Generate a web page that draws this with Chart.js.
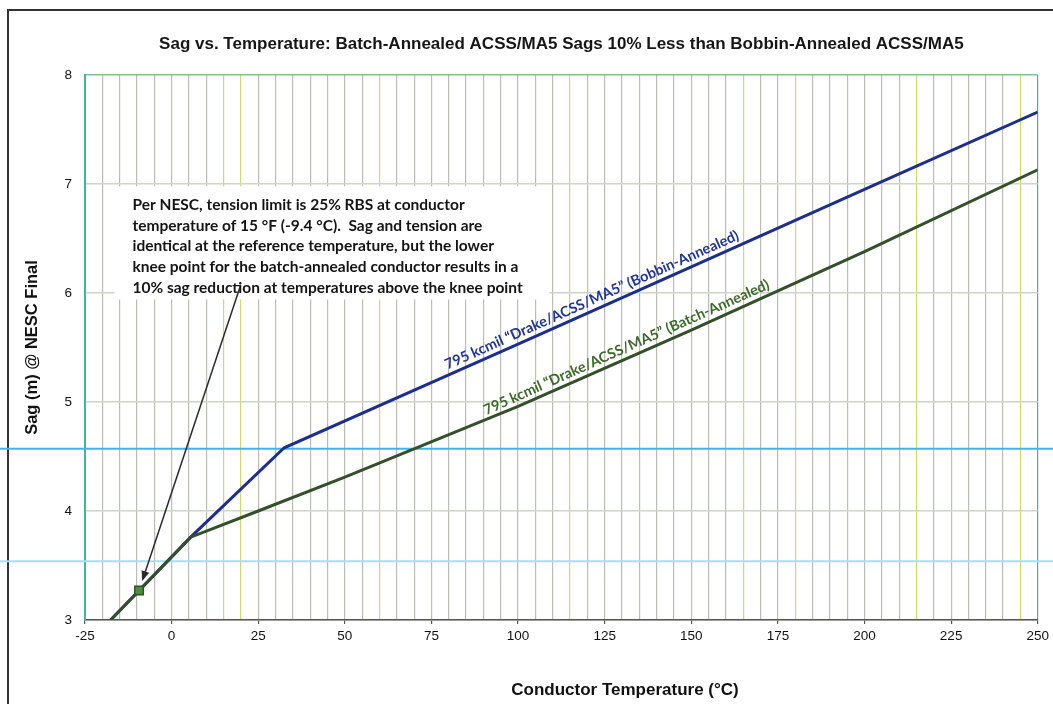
<!DOCTYPE html>
<html>
<head>
<meta charset="utf-8">
<script src="https://cdn.jsdelivr.net/npm/chart.js@4.4.1/dist/chart.umd.min.js"></script>
<style>
  html, body { margin: 0; padding: 0; background: #fff; }
  #wrap { width: 1053px; height: 704px; position: relative; }
</style>
</head>
<body>
<div id="wrap"><canvas id="sag_chart"></canvas></div>
<script>
// ***DATA***
const bobbinTemp = [-17.6, 5.5, 32.5, 100, 150, 200, 250]
const bobbinSag = [3.00, 3.76, 4.58, 5.53, 6.24, 6.95, 7.66]
const batchTemp = [-17.6, 5.5, 25, 50, 100, 150, 200, 250]
const batchSag = [3.00, 3.76, 4.00, 4.31, 4.96, 5.66, 6.38, 7.13]
const refTemp = [-9.4]
const refSag = [3.27]
const xTickLabels = [-25, 0, 25, 50, 75, 100, 125, 150, 175, 200, 225, 250]
const yTickLabels = [3, 4, 5, 6, 7, 8]
// scan artefacts: yellowish vertical grid lines, cyan horizontal streaks
const yellowGrid = [15, 20, 60, 115, 165, 180, 215, 245]
const streakSag = [4.57, 3.54]

const chartTitle = 'Sag vs. Temperature: Batch-Annealed ACSS/MA5 Sags 10% Less than Bobbin-Annealed ACSS/MA5'
const bobbinLabel = '795 kcmil \u201CDrake/ACSS/MA5\u201D (Bobbin-Annealed)'
const batchLabel = '795 kcmil \u201CDrake/ACSS/MA5\u201D (Batch-Annealed)'
const noteLines = [
  'Per NESC, tension limit is 25% RBS at conductor',
  'temperature of 15 \u00B0F (-9.4 \u00B0C).  Sag and tension are',
  'identical at the reference temperature, but the lower',
  'knee point for the batch-annealed conductor results in a',
  '10% sag reduction at temperatures above the knee point'
]

const BLUE = '#1c2f8c'
const GREEN = '#34502a'

function toPoints(xs, ys) {
  return xs.map((x, i) => ({x: x, y: ys[i]}))
}

function interp(xs, ys, x) {
  for (let i = 1; i < xs.length; i++) {
    if (x <= xs[i]) {
      const t = (x - xs[i - 1]) / (xs[i] - xs[i - 1])
      return ys[i - 1] + t * (ys[i] - ys[i - 1])
    }
  }
  return ys[ys.length - 1]
}

const extras = {
  id: 'extras',
  beforeDraw(chart) {
    const ctx = chart.ctx
    ctx.save()
    ctx.strokeStyle = '#333'
    ctx.lineWidth = 2
    ctx.beginPath()
    ctx.moveTo(8, 704)
    ctx.lineTo(8, 10)
    ctx.lineTo(1053, 10)
    ctx.stroke()
    ctx.restore()
  },
  beforeDatasetsDraw(chart) {
    const {ctx, scales: {x, y}} = chart
    ctx.save()
    // cyan streaks across the whole scan
    streakSag.forEach((v, i) => {
      ctx.strokeStyle = i === 0 ? '#3fb3ec' : '#a9def2'
      ctx.lineWidth = 2
      ctx.beginPath()
      ctx.moveTo(0, y.getPixelForValue(v))
      ctx.lineTo(1053, y.getPixelForValue(v))
      ctx.stroke()
    })
    // note box
    const bx = x.getPixelForValue(-16.5), by = y.getPixelForValue(6.98)
    const bw = x.getPixelForValue(109) - bx, bh = y.getPixelForValue(5.94) - by
    ctx.fillStyle = '#fff'
    ctx.fillRect(bx, by, bw, bh)
    ctx.fillStyle = '#141414'
    ctx.font = 'bold 15.5px Lato'
    ctx.textBaseline = 'middle'
    noteLines.forEach((t, i) => ctx.fillText(t, bx + 18, by + 19 + i * 20.6))
    ctx.restore()
  },
  afterDatasetsDraw(chart) {
    const {ctx, scales: {x, y}} = chart
    ctx.save()
    // rotated series labels
    const drawLabel = (xs, ys, at, text, color, off) => {
      const p1x = x.getPixelForValue(100), p1y = y.getPixelForValue(interp(xs, ys, 100))
      const p2x = x.getPixelForValue(200), p2y = y.getPixelForValue(interp(xs, ys, 200))
      const ang = Math.atan2(p2y - p1y, p2x - p1x)
      ctx.save()
      ctx.translate(x.getPixelForValue(at), y.getPixelForValue(interp(xs, ys, at)))
      ctx.rotate(ang)
      ctx.fillStyle = color
      ctx.font = 'bold 14.5px Lato'
      ctx.textAlign = 'center'
      ctx.textBaseline = 'bottom'
      ctx.fillText(text, 0, -off)
      ctx.restore()
    }
    drawLabel(bobbinTemp, bobbinSag, 122.5, bobbinLabel, '#22349a', 3)
    drawLabel(batchTemp, batchSag, 132.5, batchLabel, '#3d6a2c', 3)

    // arrow from the note to the reference point
    const tx = x.getPixelForValue(19.7), ty = y.getPixelForValue(6.05)
    const mx = x.getPixelForValue(refTemp[0]), my = y.getPixelForValue(refSag[0])
    const len = Math.hypot(mx - tx, my - ty)
    const ux = (mx - tx) / len, uy = (my - ty) / len
    const hx = mx - ux * 10, hy = my - uy * 10
    ctx.strokeStyle = '#2a2a2a'
    ctx.fillStyle = '#2a2a2a'
    ctx.lineWidth = 1.5
    ctx.beginPath()
    ctx.moveTo(tx, ty)
    ctx.lineTo(hx - ux * 8, hy - uy * 8)
    ctx.stroke()
    ctx.beginPath()
    ctx.moveTo(hx, hy)
    ctx.lineTo(hx - ux * 10 - uy * 4, hy - uy * 10 + ux * 4)
    ctx.lineTo(hx - ux * 10 + uy * 4, hy - uy * 10 - ux * 4)
    ctx.closePath()
    ctx.fill()

    // x axis title
    ctx.fillStyle = '#111'
    ctx.font = 'bold 17px "Liberation Sans"'
    ctx.textAlign = 'center'
    ctx.textBaseline = 'middle'
    ctx.fillText('Conductor Temperature (\u00B0C)', 625, 690)
    ctx.restore()
  }
}

drawChart()
function drawChart() {
  const sag_chart = document.getElementById('sag_chart').getContext('2d')

  const mychart = new Chart(sag_chart, {type: 'line', data: {
    datasets: [{
      label: 'Reference',
      data: toPoints(refTemp, refSag),
      showLine: false,
      pointStyle: 'rect',
      pointRadius: 6,
      backgroundColor: '#4f8c3c',
      borderColor: '#2d5522',
      borderWidth: 1.5,
      order: 0
    }, {
      label: 'Batch-Annealed',
      data: toPoints(batchTemp, batchSag),
      borderColor: GREEN,
      borderWidth: 3,
      pointRadius: 0,
      tension: 0,
      order: 1
    }, {
      label: 'Bobbin-Annealed',
      data: toPoints(bobbinTemp, bobbinSag),
      borderColor: BLUE,
      borderWidth: 3,
      pointRadius: 0,
      tension: 0,
      order: 2
    }]
  }, options: {
    responsive: true,
    maintainAspectRatio: false,
    animation: false,
    layout: {padding: {left: 20, right: 13, top: 0, bottom: 0}},
    plugins: {
      legend: {display: false},
      tooltip: {enabled: false},
      title: {
        display: true,
        fullSize: false,
        text: chartTitle,
        color: '#161616',
        font: {family: 'Liberation Sans', size: 17, weight: 'bold'},
        padding: {top: 33.8, bottom: 20.8}
      }
    },
    scales: {
      x: {
        type: 'linear',
        min: -25,
        max: 250,
        afterFit: (s) => { s.height = 84 },
        ticks: {
          stepSize: 5,
          autoSkip: false,
          maxRotation: 0,
          padding: 4,
          color: '#111',
          font: {family: 'Liberation Sans', size: 13.5},
          callback: (v) => xTickLabels.includes(v) ? String(v) : ''
        },
        grid: {
          tickLength: 4,
          lineWidth: 1.2,
          tickColor: (c) => xTickLabels.includes(c.tick.value) ? '#555' : 'rgba(0,0,0,0)',
          color: (c) => {
            const v = c.tick.value
            if (v === -25 || v === 250) return '#3fb3b0'
            if (yellowGrid.includes(v)) return '#d3d86a'
            return '#bcbcb4'
          }
        },
        border: {color: '#555', width: 1.5}
      },
      y: {
        min: 3,
        max: 8,
        afterFit: (s) => { s.width = 65 },
        afterBuildTicks: (s) => { s.ticks = yTickLabels.map(v => ({value: v})) },
        title: {
          display: true,
          text: 'Sag (m) @ NESC Final',
          color: '#111',
          font: {family: 'Liberation Sans', size: 16.5, weight: 'bold'},
          padding: {top: 3}
        },
        ticks: {
          padding: 13,
          color: '#111',
          font: {family: 'Liberation Sans', size: 13.5}
        },
        grid: {
          drawTicks: false,
          lineWidth: 1.5,
          color: (c) => c.tick.value === 8 ? '#7cc48a' : '#cdd6c8'
        },
        border: {color: '#3fb59a', width: 2}
      }
    }
  }, plugins: [extras]
  })
}
</script>
</body>
</html>
